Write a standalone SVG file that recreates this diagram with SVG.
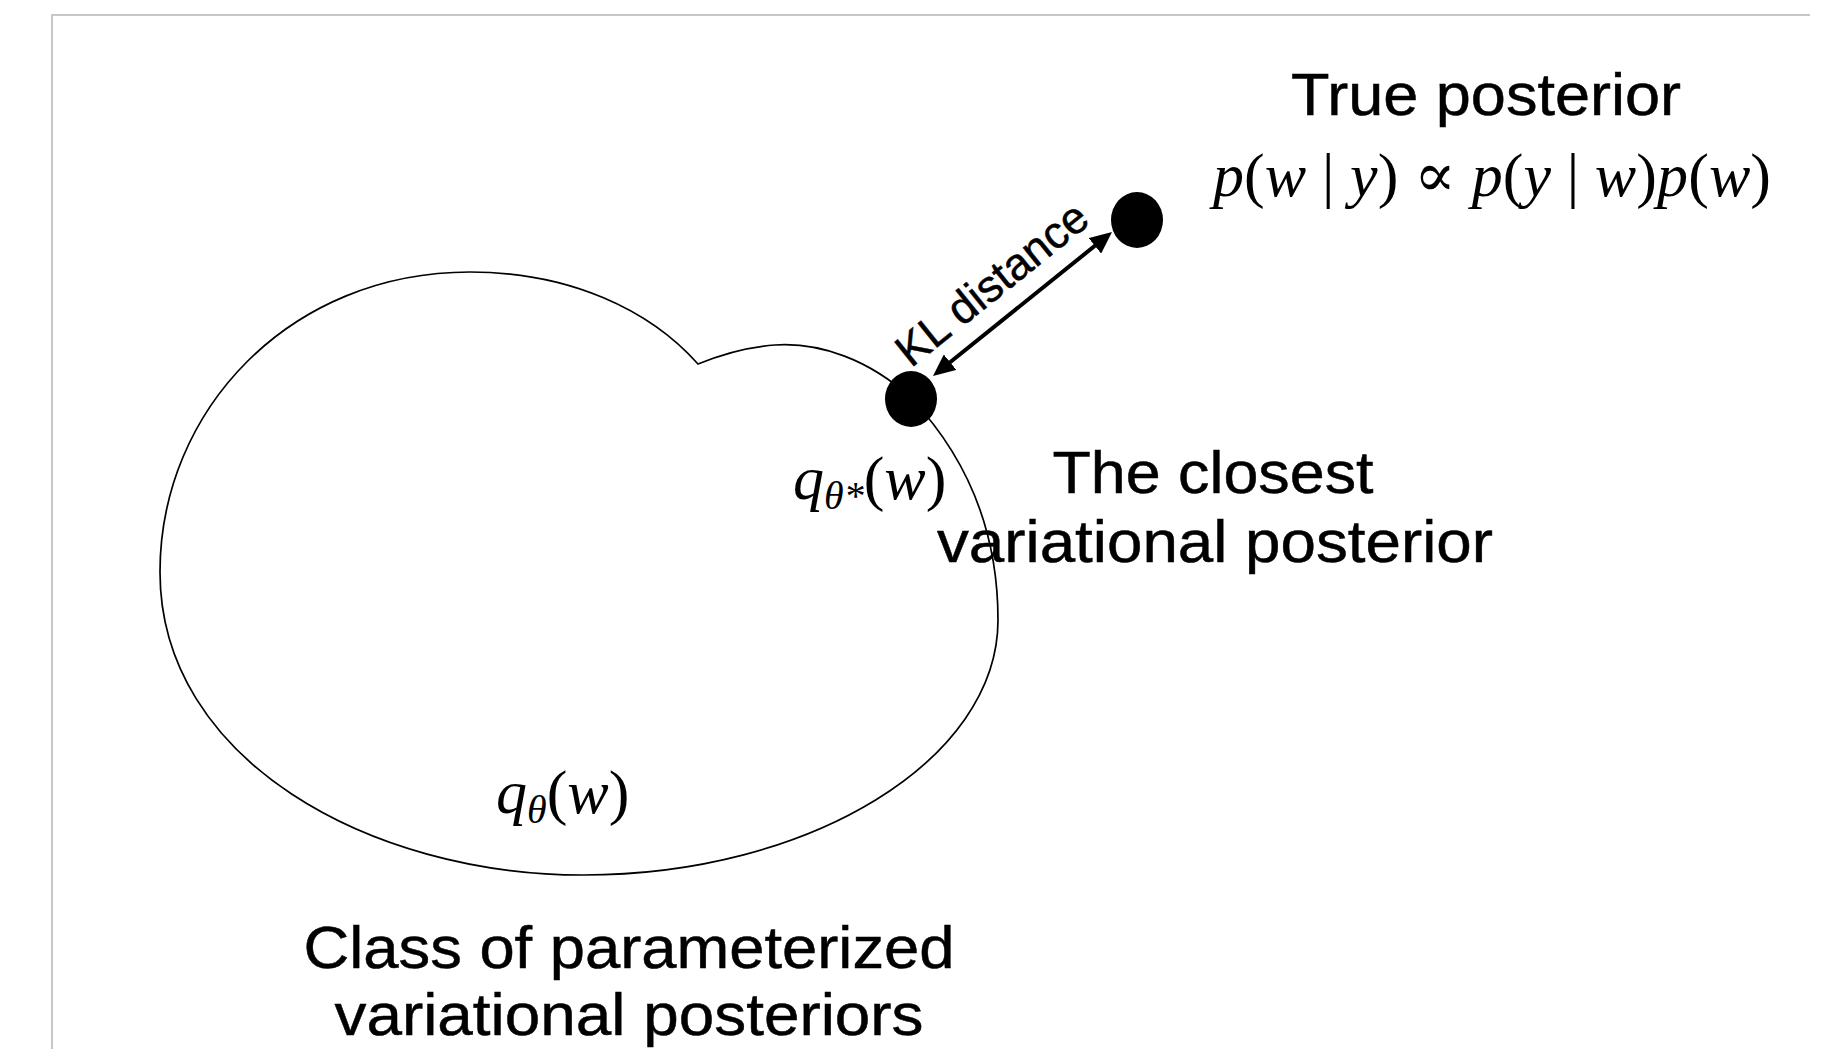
<svg xmlns="http://www.w3.org/2000/svg" width="1829" height="1049" viewBox="0 0 1829 1049">
<style>
.sans{font-family:"Liberation Sans",Arial,Helvetica,sans-serif;fill:#000;stroke:#000;stroke-width:0.5}
.big{font-size:60px}
.math{font-family:"Liberation Serif","DejaVu Serif",serif;font-size:62px;fill:#000}
.it{font-style:italic}
.sub{font-size:40px;font-style:italic}
.frame{stroke:#c8c8c8;stroke-width:2;fill:none}
</style>
<defs>
<marker id="ah" markerUnits="userSpaceOnUse" markerWidth="22" markerHeight="20" refX="14" refY="10" orient="auto-start-reverse">
<path d="M0,0 L22,10 L0,20 Z" fill="#000"/>
</marker>
</defs>
<rect width="1829" height="1049" fill="#fff"/>
<g id="frame">
<line class="frame" x1="51" y1="15" x2="1810" y2="15"/>
<line class="frame" x1="52" y1="14" x2="52" y2="1049"/>
</g>
<g id="variational-class">
<path d="M 698 364 C 650 310, 570 272, 470 272 C 290 272, 160 410, 160 572 C 160 760, 370 875, 583 875 C 810 875, 998 760, 998 620 C 998 520, 960 450, 911 398 C 870 360, 820 342, 775 345 C 745 347, 720 355, 698 364 Z" fill="none" stroke="#000" stroke-width="1.7"/>
<text class="math" x="496" y="813"><tspan class="it">q</tspan><tspan class="sub" dy="10">θ</tspan><tspan dy="-10">(</tspan><tspan class="it">w</tspan>)</text>
<text class="sans big" x="629" y="968" text-anchor="middle" textLength="651" lengthAdjust="spacingAndGlyphs">Class of parameterized</text>
<text class="sans big" x="629" y="1035" text-anchor="middle" textLength="589" lengthAdjust="spacingAndGlyphs">variational posteriors</text>
</g>
<g id="true-posterior">
<ellipse cx="1137" cy="220" rx="26" ry="28" fill="#000"/>
<text class="sans big" x="1486" y="115" text-anchor="middle" textLength="390" lengthAdjust="spacingAndGlyphs">True posterior</text>
<text class="math" x="1213" y="196" textLength="558" lengthAdjust="spacing"><tspan class="it">p</tspan>(<tspan class="it">w</tspan> | <tspan class="it">y</tspan>) ∝ <tspan class="it">p</tspan>(<tspan class="it">y</tspan> | <tspan class="it">w</tspan>)<tspan class="it">p</tspan>(<tspan class="it">w</tspan>)</text>
</g>
<g id="closest-posterior">
<ellipse cx="911" cy="399" rx="26" ry="28" fill="#000"/>
<text class="math" x="793" y="499"><tspan class="it">q</tspan><tspan class="sub" dy="10">θ*</tspan><tspan dy="-10">(</tspan><tspan class="it">w</tspan>)</text>
<text class="sans big" x="1213" y="493" text-anchor="middle" textLength="321" lengthAdjust="spacingAndGlyphs">The closest</text>
<text class="sans big" x="1215" y="562" text-anchor="middle" textLength="556" lengthAdjust="spacingAndGlyphs">variational posterior</text>
</g>
<g id="connectors">
<line x1="1105.8" y1="237" x2="939.2" y2="371" stroke="#000" stroke-width="4" marker-start="url(#ah)" marker-end="url(#ah)"/>
<text class="sans" font-size="45" x="0" y="0" text-anchor="middle" textLength="232" lengthAdjust="spacingAndGlyphs" transform="translate(992,284) rotate(-38.8) translate(0,15)">KL distance</text>
</g>
</svg>
